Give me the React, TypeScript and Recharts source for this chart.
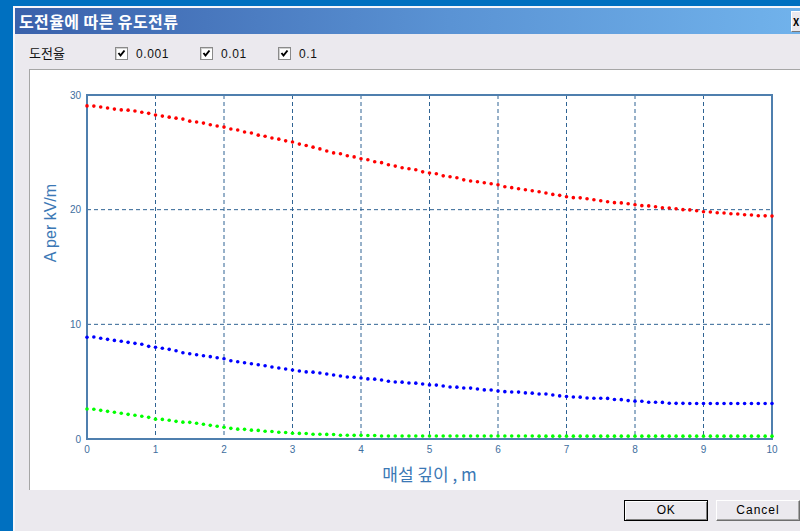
import { LineChart, Line, XAxis, YAxis, CartesianGrid, ReferenceArea, Label } from 'recharts'

// 매설 깊이 (m)
const depth = [
  0, 0.1, 0.2, 0.3, 0.4, 0.5, 0.6, 0.7, 0.8, 0.9,
  1, 1.1, 1.2, 1.3, 1.4, 1.5, 1.6, 1.7, 1.8, 1.9,
  2, 2.1, 2.2, 2.3, 2.4, 2.5, 2.6, 2.7, 2.8, 2.9,
  3, 3.1, 3.2, 3.3, 3.4, 3.5, 3.6, 3.7, 3.8, 3.9,
  4, 4.1, 4.2, 4.3, 4.4, 4.5, 4.6, 4.7, 4.8, 4.9,
  5, 5.1, 5.2, 5.3, 5.4, 5.5, 5.6, 5.7, 5.8, 5.9,
  6, 6.1, 6.2, 6.3, 6.4, 6.5, 6.6, 6.7, 6.8, 6.9,
  7, 7.1, 7.2, 7.3, 7.4, 7.5, 7.6, 7.7, 7.8, 7.9,
  8, 8.1, 8.2, 8.3, 8.4, 8.5, 8.6, 8.7, 8.8, 8.9,
  9, 9.1, 9.2, 9.3, 9.4, 9.5, 9.6, 9.7, 9.8, 9.9,
  10,
]

// 도전율 0.001
const current0001 = [
  29.05, 29.03, 28.95, 28.86, 28.77, 28.7, 28.68, 28.6, 28.5, 28.4,
  28.25, 28.16, 28.07, 27.98, 27.9, 27.72, 27.64, 27.55, 27.4, 27.3,
  27.2, 27.03, 26.95, 26.77, 26.68, 26.5, 26.4, 26.25, 26.15, 26.0,
  25.9, 25.72, 25.6, 25.45, 25.3, 25.12, 24.95, 24.87, 24.7, 24.6,
  24.44, 24.35, 24.18, 24.1, 23.92, 23.8, 23.65, 23.57, 23.48, 23.3,
  23.2, 23.13, 22.95, 22.87, 22.78, 22.6, 22.5, 22.43, 22.35, 22.26,
  22.17, 22.0, 21.92, 21.82, 21.74, 21.65, 21.56, 21.45, 21.33, 21.25,
  21.13, 21.05, 21.03, 20.95, 20.86, 20.78, 20.69, 20.61, 20.59, 20.51,
  20.43, 20.35, 20.33, 20.25, 20.17, 20.15, 20.08, 20.0, 19.98, 19.9,
  19.82, 19.8, 19.73, 19.71, 19.64, 19.62, 19.56, 19.54, 19.47, 19.46,
  19.44,
]

// 도전율 0.01
const current001 = [
  8.87, 8.89, 8.78, 8.69, 8.6, 8.52, 8.43, 8.34, 8.26, 8.08,
  8.0, 7.91, 7.82, 7.7, 7.52, 7.44, 7.35, 7.26, 7.18, 7.09,
  7.0, 6.83, 6.74, 6.65, 6.56, 6.48, 6.39, 6.28, 6.19, 6.1,
  6.02, 5.93, 5.85, 5.83, 5.75, 5.67, 5.58, 5.49, 5.41, 5.39,
  5.32, 5.24, 5.22, 5.14, 5.04, 4.97, 4.96, 4.88, 4.87, 4.8,
  4.72, 4.7, 4.62, 4.54, 4.52, 4.45, 4.44, 4.36, 4.28, 4.27,
  4.19, 4.13, 4.1, 4.09, 4.02, 4.0, 3.93, 3.92, 3.84, 3.76,
  3.7, 3.66, 3.65, 3.58, 3.56, 3.55, 3.54, 3.44, 3.43, 3.35,
  3.3, 3.29, 3.21, 3.2, 3.19, 3.12, 3.11, 3.11, 3.1, 3.1,
  3.1, 3.1, 3.1, 3.1, 3.1, 3.09, 3.09, 3.09, 3.09, 3.09,
  3.09,
]

// 도전율 0.1
const current01 = [
  2.62, 2.6, 2.5, 2.41, 2.33, 2.24, 2.15, 2.07, 1.98, 1.89,
  1.73, 1.71, 1.63, 1.54, 1.47, 1.45, 1.37, 1.28, 1.19, 1.11,
  1.02, 0.93, 0.86, 0.84, 0.77, 0.75, 0.68, 0.66, 0.59, 0.57,
  0.5, 0.49, 0.48, 0.42, 0.41, 0.4, 0.39, 0.33, 0.33, 0.32,
  0.32, 0.31, 0.31, 0.26, 0.26, 0.26, 0.26, 0.26, 0.26, 0.26,
  0.26, 0.26, 0.26, 0.26, 0.26, 0.26, 0.26, 0.26, 0.26, 0.26,
  0.26, 0.26, 0.26, 0.26, 0.26, 0.26, 0.25, 0.25, 0.25, 0.25,
  0.25, 0.25, 0.25, 0.25, 0.25, 0.25, 0.25, 0.25, 0.25, 0.25,
  0.25, 0.25, 0.25, 0.25, 0.25, 0.25, 0.25, 0.25, 0.25, 0.25,
  0.25, 0.25, 0.25, 0.25, 0.25, 0.25, 0.25, 0.25, 0.25, 0.25,
  0.25,
]

const conductivities = ['0.001', '0.01', '0.1']
const xTicks = [0, 1, 2, 3, 4, 5, 6, 7, 8, 9, 10]
const yTicks = [0, 10, 20, 30]

const data = depth.map((d, i) => ({
  depth: d,
  c0001: current0001[i],
  c001: current001[i],
  c01: current01[i],
}))

const AXIS_BLUE = '#4f7fae'
const GRID_BLUE = '#2f6393'
const LABEL_BLUE = '#3b78b5'
const tickStyle = { fontSize: 10, fill: '#406e9e', fontFamily: '"Liberation Sans", Arial, sans-serif' }

function Checkbox({ left, label }: { left: number; label: string }) {
  return (
    <div style={{ position: 'absolute', left, top: 47, height: 13, display: 'flex', alignItems: 'center' }}>
      <div style={{
        width: 11, height: 11,
        background: '#fff',
        border: '1px solid #8a8a8a',
        boxShadow: 'inset 1px 1px 0 #d0d0d0',
        position: 'relative',
      }}>
        <svg width={11} height={11} style={{ position: 'absolute', left: 0, top: 0 }}>
          <polyline points="2.5,5 4.5,7.5 8.5,2.5" fill="none" stroke="#000" strokeWidth={2} />
        </svg>
      </div>
      <span style={{
        marginLeft: 8,
        fontSize: 12,
        letterSpacing: 0.6,
        fontFamily: '"Liberation Sans", Arial, sans-serif',
        color: '#111',
      }}>{label}</span>
    </div>
  )
}

export default function App() {
  return (
    <div style={{
      position: 'fixed', left: 0, top: 0, width: 800, height: 531,
      background: '#0070c0', overflow: 'hidden',
      fontFamily: '"Noto Sans CJK KR", sans-serif',
    }}>
      {/* 대화상자 */}
      <div style={{
        position: 'absolute', left: 13, top: 6, width: 800, height: 530,
        background: '#ebe9ee',
        borderTop: '2px solid #f6f6fa',
        borderLeft: '2px solid #f6f6fa',
      }} />

      {/* 제목 표시줄 */}
      <div style={{
        position: 'absolute', left: 15, top: 8, width: 790, height: 26,
        background: 'linear-gradient(to right, #3a61ab, #5a93d4 55%, #71b3ec)',
      }}>
        <span style={{
          position: 'absolute', left: 4, top: 1,
          color: '#fff', fontSize: 16, fontWeight: 'bold', lineHeight: '24px',
          letterSpacing: 0.4,
        }}>도전율에 따른 유도전류</span>
      </div>
      <div style={{
        position: 'absolute', left: 791, top: 11, width: 19, height: 19,
        background: '#ebe9ee',
        borderTop: '1px solid #fff', borderLeft: '1px solid #fff',
        borderBottom: '1px solid #777', borderRight: '1px solid #777',
        fontSize: 10, fontWeight: 'bold', lineHeight: '19px', paddingLeft: 1, color: '#000',
      }}>X</div>

      {/* 도전율 선택 */}
      <div style={{ position: 'absolute', left: 29, top: 43, fontSize: 13, lineHeight: '20px', color: '#111' }}>도전율</div>
      <Checkbox left={115} label={conductivities[0]} />
      <Checkbox left={200} label={conductivities[1]} />
      <Checkbox left={278} label={conductivities[2]} />

      {/* 그래프 영역 */}
      <div style={{
        position: 'absolute', left: 29, top: 69, width: 771, height: 421,
        background: '#fff',
        borderTop: '1px solid #a6a6a6',
        borderLeft: '1px solid #a6a6a6',
        boxSizing: 'border-box',
      }} />
      <div style={{ position: 'absolute', left: 29, top: 69 }}>
        <LineChart width={771} height={421} data={data} margin={{ top: 26, right: 28, bottom: 0, left: 0 }}>
          <CartesianGrid stroke={GRID_BLUE} strokeDasharray="4 3" />
          <XAxis
            dataKey="depth"
            type="number"
            domain={[0, 10]}
            ticks={xTicks}
            height={51}
            axisLine={false}
            tickLine={false}
            tickSize={0}
            tickMargin={7}
            tick={tickStyle}
          >
            <Label
              content={({ viewBox }: any) => (
                <text
                  x={viewBox.x + viewBox.width / 2}
                  y={viewBox.y + 42}
                  textAnchor="middle"
                  fill={LABEL_BLUE}
                  fontSize={17}
                  fontFamily='"Noto Sans CJK KR", sans-serif'
                >매설 깊이 , m</text>
              )}
            />
          </XAxis>
          <YAxis
            type="number"
            domain={[0, 30]}
            ticks={yTicks}
            width={58}
            axisLine={false}
            tickLine={false}
            tickSize={0}
            tickMargin={6}
            tick={tickStyle}
          >
            <Label
              content={({ viewBox }: any) => (
                <text
                  x={viewBox.x + 27}
                  y={viewBox.y + 128}
                  transform={`rotate(-90 ${viewBox.x + 27} ${viewBox.y + 128})`}
                  textAnchor="middle"
                  fill={LABEL_BLUE}
                  fontSize={16}
                  fontFamily='"Liberation Sans", Arial, sans-serif'
                >A per kV/m</text>
              )}
            />
          </YAxis>
          <ReferenceArea x1={0} x2={10} y1={0} y2={30} fill="none" stroke={AXIS_BLUE} strokeWidth={2} />
          <Line dataKey="c0001" stroke="none" isAnimationActive={false}
            dot={{ r: 1.8, fill: '#ff0000', stroke: 'none' }} />
          <Line dataKey="c001" stroke="none" isAnimationActive={false}
            dot={{ r: 1.8, fill: '#0000ff', stroke: 'none' }} />
          <Line dataKey="c01" stroke="none" isAnimationActive={false}
            dot={{ r: 1.8, fill: '#00ff00', stroke: 'none' }} />
        </LineChart>
      </div>

      {/* 버튼 */}
      <div style={{
        position: 'absolute', left: 624, top: 500, width: 84, height: 21,
        boxSizing: 'border-box', border: '1px solid #000',
        background: '#ebe9ee',
        boxShadow: 'inset 1px 1px 0 #fff, inset -1px -1px 0 #808080',
        textAlign: 'center', fontSize: 12, lineHeight: '19px',
        fontFamily: '"Liberation Sans", Arial, sans-serif', letterSpacing: 0.5,
      }}>OK</div>
      <div style={{
        position: 'absolute', left: 716, top: 500, width: 84, height: 21,
        boxSizing: 'border-box',
        borderTop: '1px solid #fff', borderLeft: '1px solid #fff',
        borderBottom: '1px solid #6e6e6e', borderRight: '1px solid #6e6e6e',
        background: '#ebe9ee',
        boxShadow: 'inset -1px -1px 0 #a8a8a8',
        textAlign: 'center', fontSize: 12, lineHeight: '19px',
        fontFamily: '"Liberation Sans", Arial, sans-serif', letterSpacing: 1,
      }}>Cancel</div>
    </div>
  )
}
